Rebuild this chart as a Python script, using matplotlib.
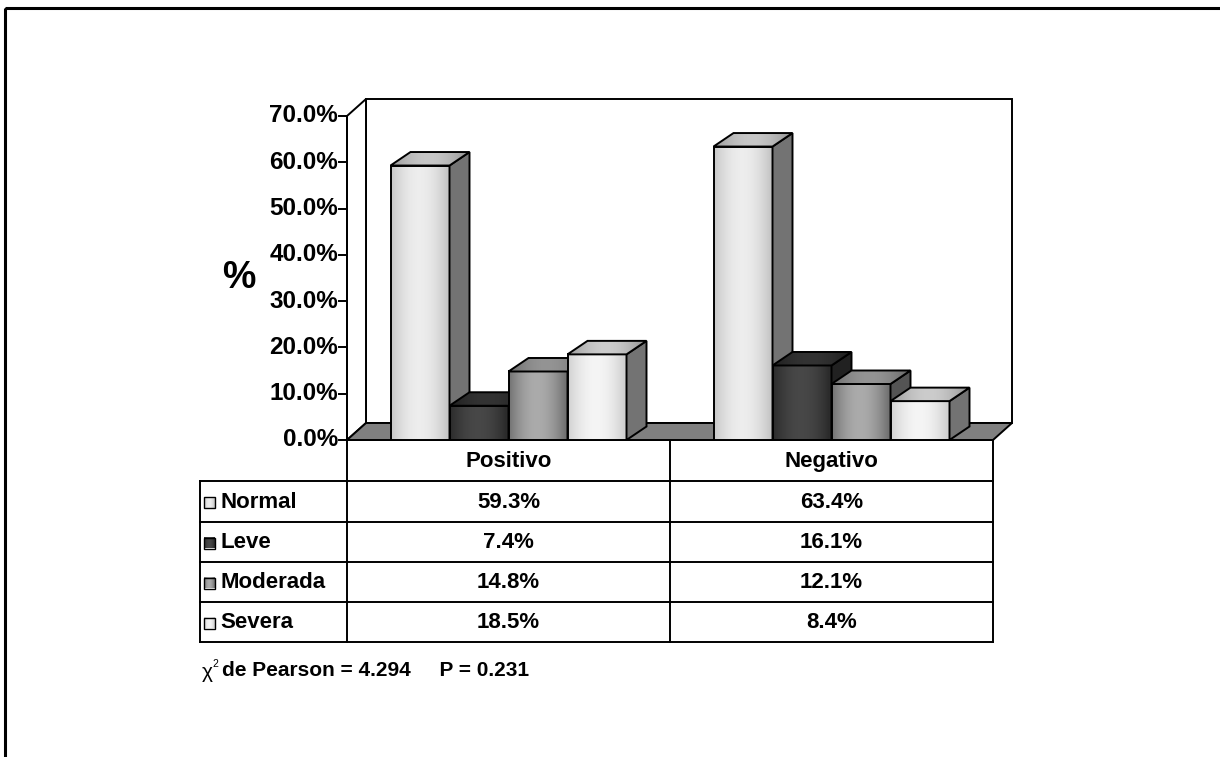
import matplotlib.pyplot as plt
import numpy as np
from matplotlib.patches import Polygon, Rectangle

plt.rcParams['font.family'] = ['Liberation Sans', 'DejaVu Sans']

# Datos
grupos = ['Positivo', 'Negativo']
severidad = ['Normal', 'Leve', 'Moderada', 'Severa']
porcentajes = {
    'Normal':   [59.3, 63.4],
    'Leve':     [7.4, 16.1],
    'Moderada': [14.8, 12.1],
    'Severa':   [18.5, 8.4],
}
yticks = [0, 10, 20, 30, 40, 50, 60, 70]
nota = 'de Pearson = 4.294     P = 0.231'

# Tonos de gris: frente (borde, centro), lado, techo (borde, centro)
tonos = {
    'Normal':   ((0.78, 0.93), 0.45, (0.60, 0.78)),
    'Leve':     ((0.17, 0.28), 0.13, (0.12, 0.20)),
    'Moderada': ((0.45, 0.67), 0.33, (0.42, 0.58)),
    'Severa':   ((0.82, 0.96), 0.45, (0.60, 0.80)),
}

W, H = 1220, 757
X0, X1, Y0, Y1 = 347, 993, 440, 116

fig = plt.figure(figsize=(W / 100, H / 100), dpi=100)

# capa de fondo en pixeles: marco, tabla, notas
ov = fig.add_axes([0, 0, 1, 1])
ov.set_xlim(0, W)
ov.set_ylim(H, 0)
ov.axis('off')

ax = fig.add_axes([X0 / W, 1 - Y0 / H, (X1 - X0) / W, (Y0 - Y1) / H])
ax.patch.set_visible(False)
ax.axis('off')

xmin, xmax, ymax = -0.5, len(grupos) - 0.5, 70
ux = (xmax - xmin) / (X1 - X0)
uy = ymax / (Y0 - Y1)
DX, DY = 19 * ux, 17 * uy        # profundidad de las paredes
DXb, DYb = 20 * ux, 13.5 * uy    # profundidad de las barras
ancho = 59 * ux

LW = 1.4


def gradiente(borde, centro, n=64):
    t = np.linspace(0, 1, n)
    v = borde + (centro - borde) * np.sin(np.pi * np.clip(t * 1.05, 0, 1)) ** 0.9
    return np.dstack([v, v, v])[0][None, :, :]


# paredes y piso
ax.add_patch(Polygon([(xmin + DX, DY), (xmax + DX, DY), (xmax + DX, ymax + DY),
                      (xmin + DX, ymax + DY)], closed=True, facecolor='white',
                     edgecolor='black', lw=LW, zorder=1, clip_on=False))
ax.add_patch(Polygon([(xmin, 0), (xmin + DX, DY), (xmin + DX, ymax + DY),
                      (xmin, ymax)], closed=True, facecolor='white',
                     edgecolor='black', lw=LW, zorder=2, clip_on=False))
ax.add_patch(Polygon([(xmin, 0), (xmax, 0), (xmax + DX, DY), (xmin + DX, DY)],
                     closed=True, facecolor='#808080', edgecolor='black',
                     lw=LW, zorder=3, clip_on=False))

# barras 3D
z = 10
for g in range(len(grupos)):
    for j, s in enumerate(severidad):
        h = porcentajes[s][g]
        x0 = g - 2 * ancho + j * ancho
        fr, lado, techo = tonos[s]
        ax.imshow(gradiente(*fr), extent=[x0, x0 + ancho, 0, h],
                  aspect='auto', interpolation='bilinear', zorder=z)
        ax.add_patch(Rectangle((x0, 0), ancho, h, facecolor='none',
                               edgecolor='black', lw=LW, zorder=z + 1,
                               clip_on=False))
        lado_pts = [(x0 + ancho, 0), (x0 + ancho + DXb, DYb),
                    (x0 + ancho + DXb, h + DYb), (x0 + ancho, h)]
        ax.add_patch(Polygon(lado_pts, closed=True, facecolor=str(lado),
                             edgecolor='black', lw=LW, zorder=z + 1, clip_on=False))
        techo_pts = [(x0, h), (x0 + ancho, h), (x0 + ancho + DXb, h + DYb),
                     (x0 + DXb, h + DYb)]
        clip = Polygon(techo_pts, closed=True, facecolor='none', edgecolor='none',
                       zorder=z + 1, clip_on=False)
        ax.add_patch(clip)
        imt = ax.imshow(gradiente(*techo), extent=[x0, x0 + ancho + DXb, h, h + DYb],
                        aspect='auto', interpolation='bilinear', zorder=z + 1)
        imt.set_clip_path(clip)
        ax.add_patch(Polygon(techo_pts, closed=True, facecolor='none',
                             edgecolor='black', lw=LW, zorder=z + 2, clip_on=False))
        z += 3

ax.set_xlim(xmin, xmax)
ax.set_ylim(0, ymax)

# eje vertical con marcas
ax.plot([xmin, xmin], [0, ymax], color='black', lw=LW, clip_on=False, zorder=50)
for v in yticks:
    ax.plot([xmin - 8 * ux, xmin], [v, v], color='black', lw=LW, clip_on=False, zorder=50)
    ax.text(xmin - 9 * ux, v, f'{v:.1f}%', ha='right', va='center',
            fontsize=17.5, fontweight='bold')
ax.text(xmin - 108 * ux, 35, '%', ha='center', va='center',
        fontsize=27, fontweight='bold')

# marco exterior
ov.add_patch(Rectangle((5, 8), W, H, facecolor='none', edgecolor='black', lw=2.2))

# tabla de datos
filas = [440, 481, 522, 562, 602, 642]
cols = [X0 + i * (X1 - X0) / len(grupos) for i in range(len(grupos) + 1)]
TL = 200
kw = dict(color='black', lw=LW)
ov.plot([X0, X1], [filas[0], filas[0]], **kw)
for yy in filas[1:]:
    ov.plot([TL, X1], [yy, yy], **kw)
ov.plot([TL, TL], [filas[1], filas[-1]], **kw)
for xx in cols:
    ov.plot([xx, xx], [filas[0], filas[-1]], **kw)

tam = 16
for i, g in enumerate(grupos):
    ov.text((cols[i] + cols[i + 1]) / 2, (filas[0] + filas[1]) / 2 + 1, g,
            ha='center', va='center', fontsize=tam, fontweight='bold')
for r, s in enumerate(severidad):
    yc = (filas[r + 1] + filas[r + 2]) / 2 + 1
    fr = tonos[s][0]
    ov.imshow(gradiente(*fr), extent=[204, 215, yc + 5.5, yc - 5.5], aspect='auto',
              interpolation='bilinear', zorder=5)
    ov.add_patch(Rectangle((204, yc - 5.5), 11, 11, facecolor='none',
                           edgecolor='black', lw=1.0, zorder=6))
    ov.text(220, yc, s, ha='left', va='center', fontsize=tam, fontweight='bold')
    for i in range(len(grupos)):
        ov.text((cols[i] + cols[i + 1]) / 2, yc, f'{porcentajes[s][i]:.1f}%',
                ha='center', va='center', fontsize=tam, fontweight='bold')
ov.set_xlim(0, W)
ov.set_ylim(H, 0)

# nota estadistica
ov.text(202, 673, 'χ', ha='left', va='center', fontsize=15)
ov.text(212, 664, '2', ha='left', va='center', fontsize=7.5)
ov.text(222, 671, nota, ha='left', va='center', fontsize=15, fontweight='bold')

fig.savefig('out.png', dpi=100)
